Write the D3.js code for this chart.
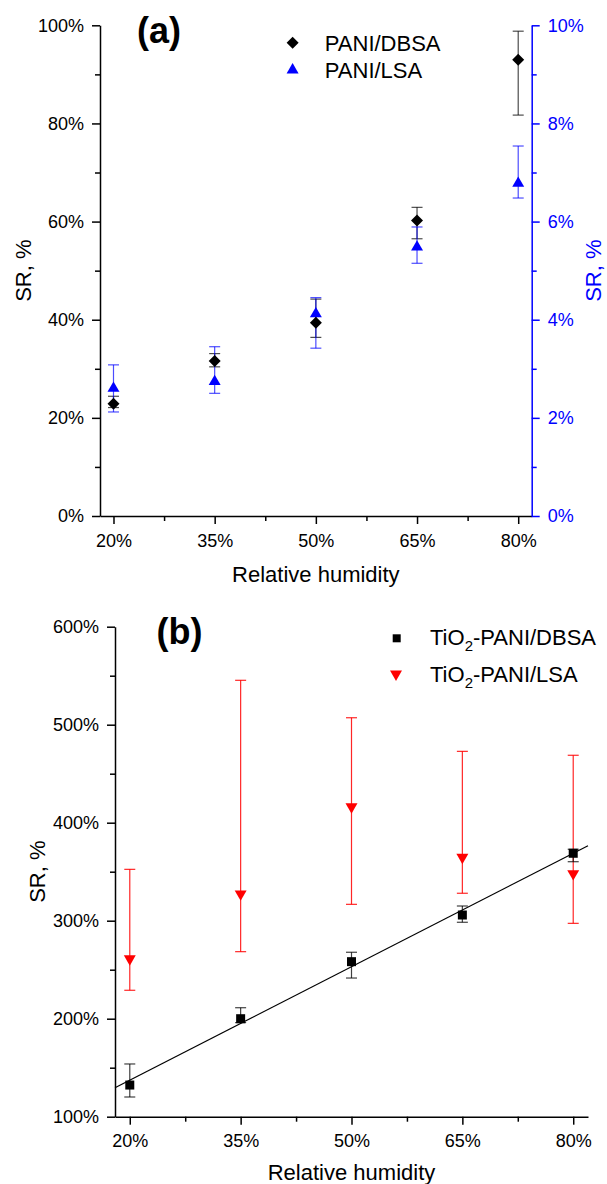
<!DOCTYPE html>
<html>
<head>
<meta charset="utf-8">
<script src="https://cdn.jsdelivr.net/npm/d3@7"></script>
<style>
  body { margin: 0; background: #fff; }
  svg text { font-family: Arial, "Liberation Sans", sans-serif; }
</style>
</head>
<body>
<div id="chart"></div>
<script>
// DATA
const rh = [20, 35, 50, 65, 80];

// panel (a) - left axis, PANI/DBSA
const dbsaA   = [22.9, 31.6, 39.4, 60.2, 93.0];
const dbsaALo = [22.1, 30.4, 36.4, 56.5, 81.7];
const dbsaAHi = [24.4, 33.1, 44.2, 62.9, 98.8];
// panel (a) - right axis, PANI/LSA
const lsaA   = [2.60, 2.74, 4.12, 5.48, 6.78];
const lsaALo = [2.12, 2.50, 3.42, 5.15, 6.48];
const lsaAHi = [3.08, 3.45, 4.45, 5.89, 7.54];

// panel (b) - TiO2-PANI/DBSA
const dbsaB   = [132.3, 200.0, 258.2, 305.8, 368.8];
const dbsaBLo = [120.1, 196.0, 241.5, 298.4, 360.2];
const dbsaBHi = [153.8, 211.2, 267.8, 315.0, 372.9];
// panel (b) - TiO2-PANI/LSA
const lsaB   = [261.2, 327.3, 416.3, 364.7, 348.0];
const lsaBLo = [229.0, 268.4, 316.7, 328.0, 297.3];
const lsaBHi = [352.4, 545.3, 507.1, 472.8, 468.8];

const xTicks = [20, 35, 50, 65, 80];
const xMinor = [27.5, 42.5, 57.5, 72.5];
const yTicksA = [0, 20, 40, 60, 80, 100];
const yMinorA = [10, 30, 50, 70, 90];
const y2TicksA = [0, 2, 4, 6, 8, 10];
const y2MinorA = [1, 3, 5, 7, 9];
const yTicksB = [100, 200, 300, 400, 500, 600];
const yMinorB = [150, 250, 350, 450, 550];

const width = 607, height = 1184;
const BLUE = "#0000ff", RED = "#ff0000";

const svg = d3.select("#chart")
    .append("svg")
    .attr("width", width)
    .attr("height", height);

const pct = d => d + "%";

// SCALES
const xA = d3.scaleLinear().domain([18, 82]).range([100, 531.7]);
const yA = d3.scaleLinear().domain([0, 100]).range([516, 25.3]);
const yA2 = d3.scaleLinear().domain([0, 10]).range([516, 25.3]);

const xB = d3.scaleLinear().domain([18, 82]).range([115, 588]);
const yB = d3.scaleLinear().domain([100, 600]).range([1116.7, 626.7]);

// AXES helper
function drawAxis(axisFn, scale, ticks, minor, transform, color) {
    const g = svg.append("g").attr("transform", transform);
    g.call(axisFn(scale).tickValues(ticks).tickFormat(pct)
        .tickSize(8).tickSizeOuter(0).tickPadding(axisFn === d3.axisBottom ? 10 : 8));
    g.selectAll("text").attr("font-size", 18).attr("fill", color).attr("font-family", null);
    g.selectAll("line").attr("stroke", color).attr("stroke-width", 1.5);
    g.select(".domain").attr("stroke", color).attr("stroke-width", 1.5);
    const m = svg.append("g").attr("transform", transform);
    m.call(axisFn(scale).tickValues(minor).tickFormat("").tickSize(5).tickSizeOuter(0));
    m.select(".domain").remove();
    m.selectAll("line").attr("stroke", color).attr("stroke-width", 1.5);
    return g;
}

// panel (a)
drawAxis(d3.axisBottom, xA, xTicks, xMinor, `translate(0,${yA(0)})`, "#000");
drawAxis(d3.axisLeft, yA, yTicksA, yMinorA, `translate(${xA(18)},0)`, "#000");
drawAxis(d3.axisRight, yA2, y2TicksA, y2MinorA, `translate(${xA(82)},0)`, BLUE);

// panel (b)
drawAxis(d3.axisBottom, xB, xTicks, xMinor, `translate(0,${yB(100)})`, "#000");
drawAxis(d3.axisLeft, yB, yTicksB, yMinorB, `translate(${xB(18)},0)`, "#000");

// AXIS LABELS
function yLabel(x, y, color) {
    svg.append("text")
        .attr("transform", `translate(${x},${y})rotate(-90)`)
        .attr("text-anchor", "middle")
        .attr("font-size", 22)
        .attr("fill", color)
        .text("SR, %");
}
yLabel(31, (yA(0) + yA(100)) / 2, "#000");
yLabel(601, (yA(0) + yA(100)) / 2, BLUE);
yLabel(45, (yB(100) + yB(600)) / 2, "#000");

svg.append("text").attr("x", xA(50)).attr("y", 581.7)
    .attr("text-anchor", "middle").attr("font-size", 22).text("Relative humidity");
svg.append("text").attr("x", xB(50)).attr("y", 1180)
    .attr("text-anchor", "middle").attr("font-size", 22).text("Relative humidity");

// PANEL TITLES
svg.append("text").attr("x", 137).attr("y", 42.5)
    .attr("font-size", 36).attr("font-weight", "bold").text("(a)");
svg.append("text").attr("x", 156.5).attr("y", 644)
    .attr("font-size", 36).attr("font-weight", "bold").text("(b)");

// MARKS
function errBars(xs, ys, lo, hi, color, opacity) {
    const g = svg.append("g").attr("stroke", color).attr("stroke-width", 1.2)
        .attr("stroke-opacity", opacity).attr("fill", "none");
    rh.forEach(function(r, i) {
        const x = xs(r);
        g.append("line").attr("x1", x).attr("x2", x).attr("y1", ys(lo[i])).attr("y2", ys(hi[i]));
        g.append("line").attr("x1", x - 5.5).attr("x2", x + 5.5).attr("y1", ys(lo[i])).attr("y2", ys(lo[i]));
        g.append("line").attr("x1", x - 5.5).attr("x2", x + 5.5).attr("y1", ys(hi[i])).attr("y2", ys(hi[i]));
    });
}

function points(xs, ys, vals, type, size, rot, color) {
    svg.append("g").selectAll("path")
        .data(vals)
        .enter()
        .append("path")
        .attr("d", d3.symbol().type(type).size(size))
        .attr("transform", (d, i) => `translate(${xs(rh[i])},${ys(d)})rotate(${rot})`)
        .attr("fill", color);
}

// (a)
errBars(xA, yA, dbsaALo, dbsaAHi, "#000", 0.7);
errBars(xA, yA2, lsaALo, lsaAHi, BLUE, 0.7);
points(xA, yA2, lsaA, d3.symbolTriangle, 62, 0, BLUE);
points(xA, yA, dbsaA, d3.symbolSquare, 72, 45, "#000");

// (b) linear fit of TiO2-PANI/DBSA
const mx = d3.mean(rh), my = d3.mean(dbsaB);
const slope = d3.sum(rh, (r, i) => (r - mx) * (dbsaB[i] - my)) / d3.sum(rh, r => (r - mx) * (r - mx));
const fit = x => my + slope * (x - mx);
svg.append("line")
    .attr("x1", xB(18)).attr("y1", yB(fit(18)))
    .attr("x2", xB(82)).attr("y2", yB(fit(82)))
    .attr("stroke", "#000").attr("stroke-width", 1.2);

errBars(xB, yB, lsaBLo, lsaBHi, RED, 0.85);
errBars(xB, yB, dbsaBLo, dbsaBHi, "#000", 0.75);
points(xB, yB, lsaB, d3.symbolTriangle, 62, 180, RED);
points(xB, yB, dbsaB, d3.symbolSquare, 81, 0, "#000");

// LEGENDS
function legendItem(x, y, type, size, rot, color, tx, ty, label) {
    svg.append("path")
        .attr("d", d3.symbol().type(type).size(size)())
        .attr("transform", `translate(${x},${y})rotate(${rot})`)
        .attr("fill", color);
    const t = svg.append("text").attr("x", tx).attr("y", ty).attr("font-size", 22);
    if (typeof label === "string") {
        t.text(label);
    } else {
        t.append("tspan").text(label.pre);
        t.append("tspan").attr("font-size", 15).attr("dy", 6).text(label.sub);
        t.append("tspan").attr("dy", -6).text(label.post);
    }
}
legendItem(292.6, 42.7, d3.symbolSquare, 72, 45, "#000", 324.8, 50.7, "PANI/DBSA");
legendItem(292.6, 70, d3.symbolTriangle, 62, 0, BLUE, 324.8, 78.3, "PANI/LSA");
legendItem(396.7, 638.3, d3.symbolSquare, 64, 0, "#000", 430, 645,
    {pre: "TiO", sub: "2", post: "-PANI/DBSA"});
legendItem(396, 674, d3.symbolTriangle, 62, 180, RED, 430, 681.7,
    {pre: "TiO", sub: "2", post: "-PANI/LSA"});
</script>
</body>
</html>
